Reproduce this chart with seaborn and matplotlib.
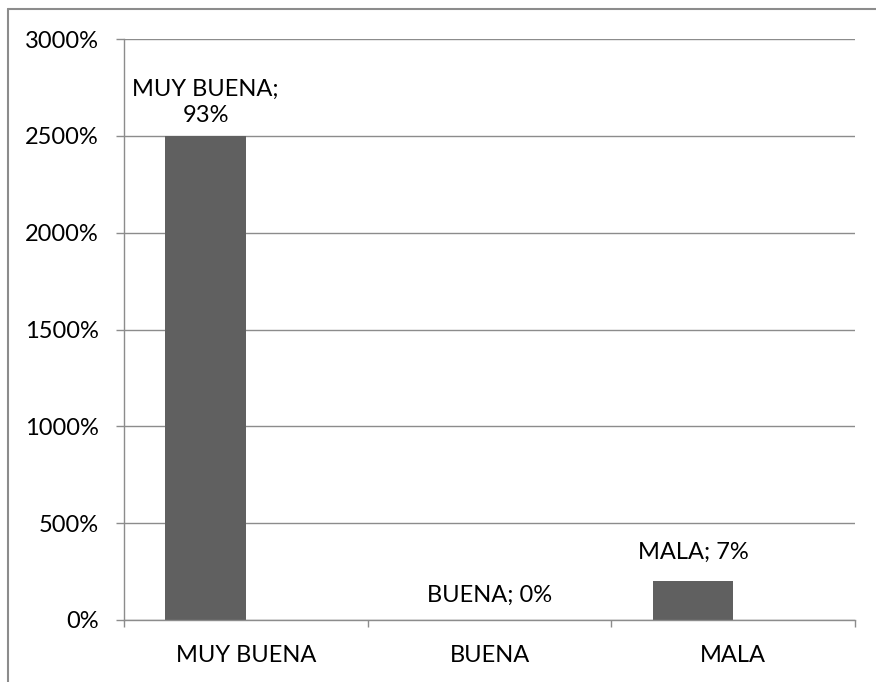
import matplotlib
matplotlib.use("Agg")
import matplotlib.pyplot as plt
from matplotlib.ticker import PercentFormatter, FixedLocator
from matplotlib.lines import Line2D
import seaborn as sns
import pandas as pd

# data
categories = ["MUY BUENA", "BUENA", "MALA"]
values = [25.0, 0.0, 2.0]          # plotted heights (1.0 == 100%)
label_pcts = ["93%", "0%", "7%"]   # data label texts shown on the chart
# the original has a second (empty) series, which pushes the bars left
empty_series = [0.0, 0.0, 0.0]

df = pd.DataFrame({
    "cat": categories * 2,
    "val": values + empty_series,
    "serie": ["A"] * 3 + ["B"] * 3,
})

sns.set_style("white")
plt.rcParams["font.family"] = ["Lato", "DejaVu Sans"]
plt.rcParams["text.color"] = "black"
plt.rcParams["xtick.color"] = "black"
plt.rcParams["ytick.color"] = "black"

fig = plt.figure(figsize=(8.76, 6.82), dpi=100)
ax = fig.add_axes([124 / 876, 1 - 620 / 682, (855 - 124) / 876, (620 - 39) / 682])

sns.barplot(data=df, x="cat", y="val", hue="serie",
            palette={"A": "#606060", "B": "#606060"}, width=0.66,
            linewidth=0, saturation=1, legend=False, ax=ax)

ax.set_xlim(-0.5, 2.5)
ax.set_ylim(0, 30)
ax.yaxis.set_major_locator(FixedLocator([0, 5, 10, 15, 20, 25, 30]))
ax.yaxis.set_major_formatter(PercentFormatter(xmax=1, decimals=0))
ax.grid(axis="y", color="#8c8c8c", linewidth=1)
ax.set_axisbelow(True)
ax.set_xlabel("")
ax.set_ylabel("")

for s in ["top", "right"]:
    ax.spines[s].set_visible(False)
for s in ["left", "bottom"]:
    ax.spines[s].set_color("#8c8c8c")
    ax.spines[s].set_linewidth(1)

ax.tick_params(axis="y", which="major", length=6, color="#8c8c8c", width=1,
               labelsize=17, labelcolor="black", pad=12, left=True)
ax.tick_params(axis="x", which="major", length=0, labelsize=17,
               labelcolor="black", pad=18)
ax.set_xticks([-0.5, 0.5, 1.5, 2.5], minor=True)
ax.tick_params(axis="x", which="minor", length=5, color="#8c8c8c", width=1,
               bottom=True)

# data labels (first series bars)
bars = ax.patches[:3]
offsets = [7, 10, 13]
for i, (c, v, p) in enumerate(zip(categories, values, label_pcts)):
    if v > 0:
        bx = bars[i].get_x() + bars[i].get_width() / 2
        txt = f"{c};\n{p}" if i == 0 else f"{c}; {p}"
    else:
        bx = i
        txt = f"{c}; {p}"
    ax.annotate(txt, (bx, v), xytext=(0, offsets[i]), textcoords="offset points",
                ha="center", va="bottom", fontsize=17, color="black",
                linespacing=1.3)

# outer chart border (top and left visible)
fig.add_artist(Line2D([8 / 876, 1], [1 - 9 / 682, 1 - 9 / 682],
                      transform=fig.transFigure, color="#8c8c8c", linewidth=1.5))
fig.add_artist(Line2D([8 / 876, 8 / 876], [0, 1 - 9 / 682],
                      transform=fig.transFigure, color="#8c8c8c", linewidth=1.5))

fig.savefig("out.png", dpi=100)
